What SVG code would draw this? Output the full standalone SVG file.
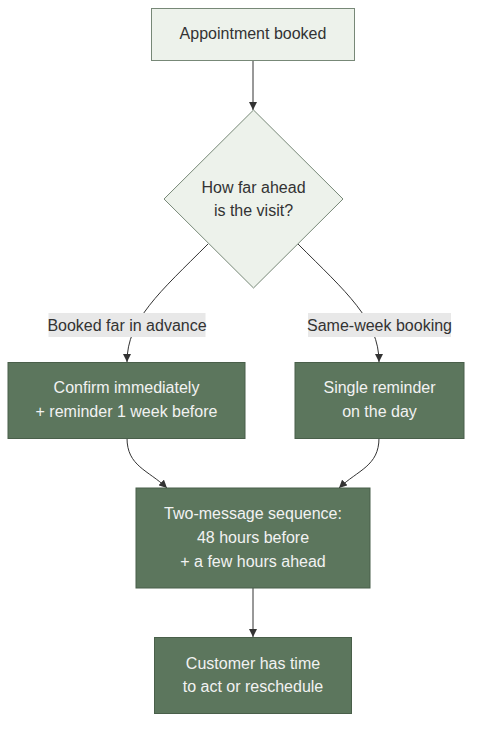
<svg xmlns="http://www.w3.org/2000/svg" width="480" height="735" viewBox="0 0 480 735">
<style>
.light{fill:#edf2eb;stroke:#778877;stroke-width:1}
.dark{fill:#5c765d;stroke:#495f4a;stroke-width:1}
text{font-family:"Liberation Sans",Arial,sans-serif;font-size:16px;text-anchor:middle}
.tl{fill:#333333}
.td{fill:#f2f2f2}
.edge{fill:none;stroke:#333333;stroke-width:1}
.lblbg{fill:#e8e8e8}
</style>
<defs>
<marker id="arr" viewBox="0 0 10 10" refX="10" refY="5" markerWidth="8" markerHeight="8" markerUnits="userSpaceOnUse" orient="auto">
<path d="M0,0 L10,5 L0,10 z" fill="#333333"/>
</marker>
</defs>
<g id="connectors">
<path class="edge" d="M253,61 L253,110" marker-end="url(#arr)"/>
<path class="edge" d="M208,244 C160,292 127,320 127,362" marker-end="url(#arr)"/>
<path class="edge" d="M298,244 C346,292 379,320 379,362" marker-end="url(#arr)"/>
<path class="edge" d="M127,438 C127,466 148,470 167,488" marker-end="url(#arr)"/>
<path class="edge" d="M379,438 C379,466 358,470 339,488" marker-end="url(#arr)"/>
<path class="edge" d="M253,588 L253,637" marker-end="url(#arr)"/>
<g id="label-far">
<rect class="lblbg" x="48.5" y="313" width="157" height="24"/>
<text class="tl" x="127" y="331">Booked far in advance</text>
</g>
<g id="label-week">
<rect class="lblbg" x="308" y="313" width="143" height="24"/>
<text class="tl" x="379.5" y="331">Same-week booking</text>
</g>
</g>
<g id="n-booked">
<rect class="light" x="151.5" y="8.5" width="203" height="52"/>
<text class="tl" x="253" y="39">Appointment booked</text>
</g>
<g id="n-decision">
<polygon class="light" points="253.5,110 343,199 253.5,288 164,199"/>
<text class="tl" x="253.5" y="193">How far ahead</text>
<text class="tl" x="253.5" y="216">is the visit?</text>
</g>
<g id="n-confirm">
<rect class="dark" x="8" y="362.5" width="237" height="76"/>
<text class="td" x="126.5" y="393">Confirm immediately</text>
<text class="td" x="126.5" y="417">+ reminder 1 week before</text>
</g>
<g id="n-single">
<rect class="dark" x="295" y="362.5" width="169" height="76"/>
<text class="td" x="379.5" y="393">Single reminder</text>
<text class="td" x="379.5" y="417">on the day</text>
</g>
<g id="n-sequence">
<rect class="dark" x="136" y="488" width="234" height="100"/>
<text class="td" x="253" y="519">Two-message sequence:</text>
<text class="td" x="253" y="543">48 hours before</text>
<text class="td" x="253" y="567">+ a few hours ahead</text>
</g>
<g id="n-customer">
<rect class="dark" x="154.5" y="637.5" width="197" height="76"/>
<text class="td" x="253" y="669">Customer has time</text>
<text class="td" x="253" y="692">to act or reschedule</text>
</g>
</svg>
